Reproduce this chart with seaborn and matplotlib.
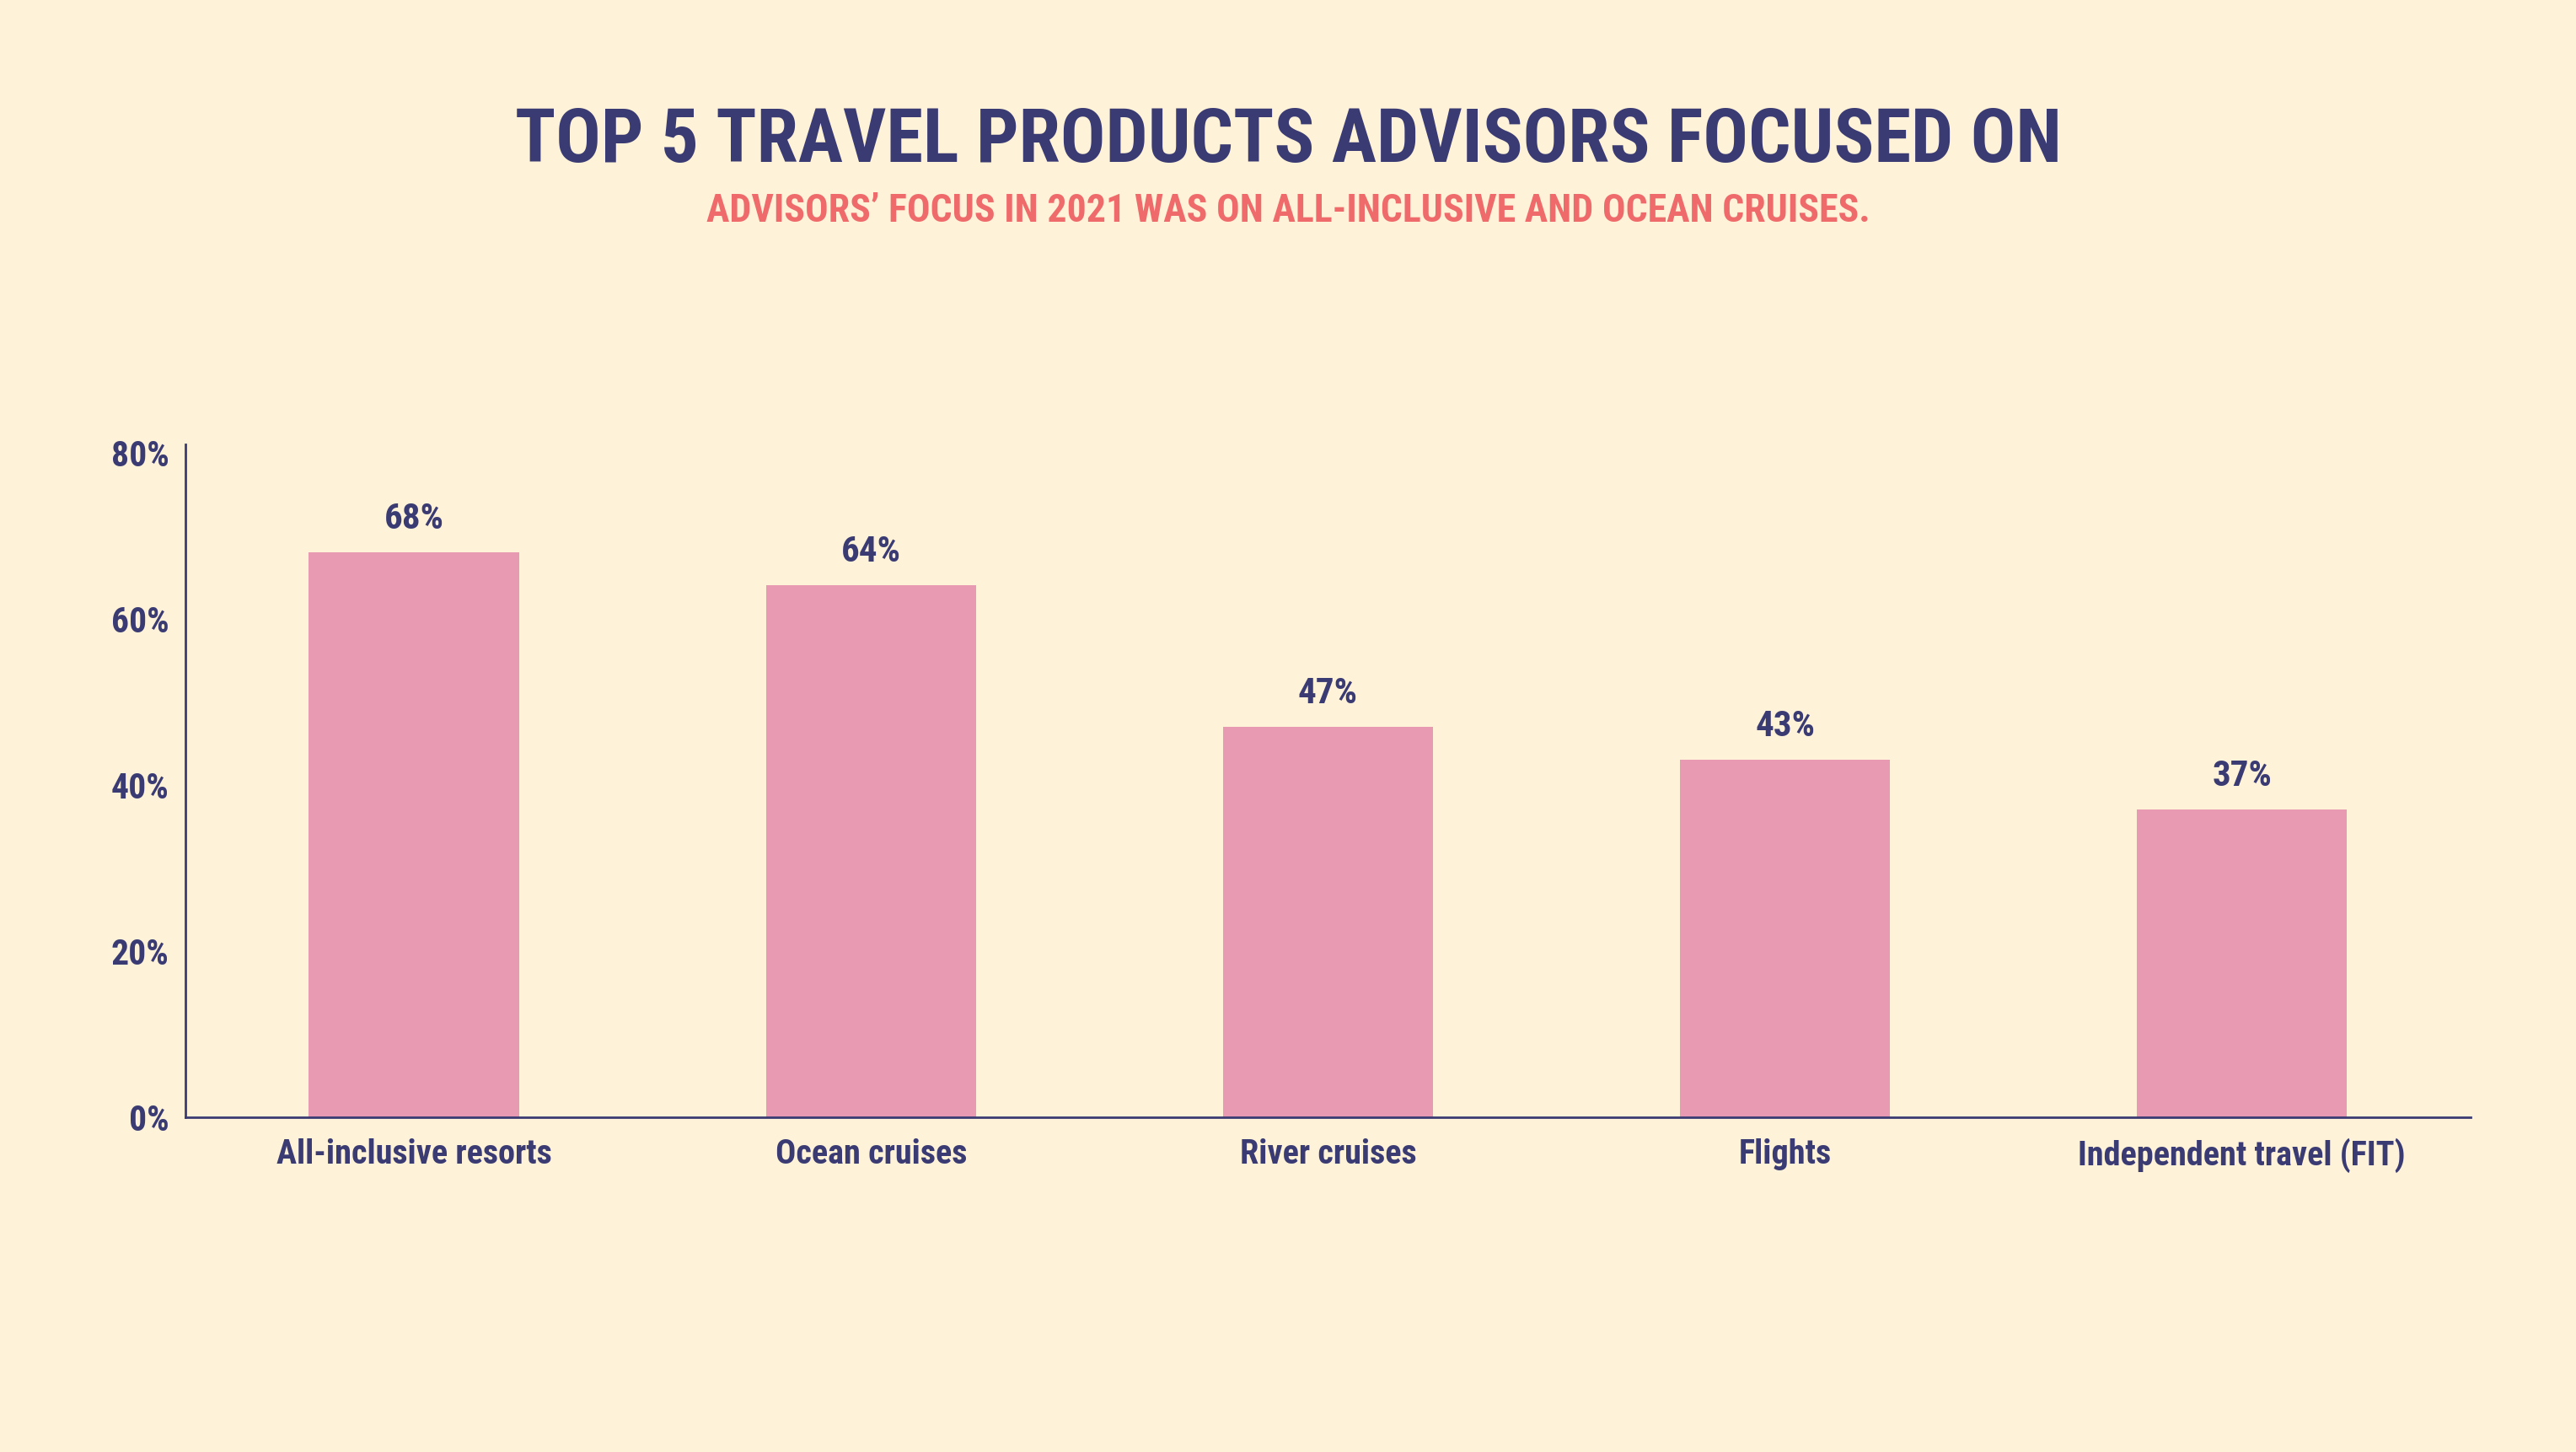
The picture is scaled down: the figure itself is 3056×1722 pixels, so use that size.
import matplotlib
matplotlib.use("Agg")
import matplotlib.pyplot as plt
import seaborn as sns
import pandas as pd
from matplotlib import font_manager

# data
categories = ["All-inclusive resorts", "Ocean cruises", "River cruises",
              "Flights", "Independent travel (FIT)"]
values = [68, 64, 47, 43, 37]
yticks = [0, 20, 40, 60, 80]

title = "TOP 5 TRAVEL PRODUCTS ADVISORS FOCUSED ON"
subtitle = "ADVISORS\u2019 FOCUS IN 2021 WAS ON ALL-INCLUSIVE AND OCEAN CRUISES."

BG = "#FEF3D8"
NAVY = "#3B3B74"
PINK = "#E89AB2"
CORAL = "#EF6B6B"

sns.set_theme(style="white")

# pick a narrow font if one is installed, the reference uses a condensed face
names = {f.name for f in font_manager.fontManager.ttflist}
narrow = [n for n in ["Roboto Condensed", "Liberation Sans Narrow",
                      "Open Sans Condensed"] if n in names]
plt.rcParams["font.family"] = narrow + ["DejaVu Sans"]
plt.rcParams["font.weight"] = "bold"

df = pd.DataFrame({"category": categories, "value": values})

fig = plt.figure(figsize=(30.56, 17.22), dpi=100, facecolor=BG)
ax = fig.add_axes([0.072, 0.2305, 0.887, 0.4635])
ax.set_facecolor(BG)

sns.barplot(data=df, x="category", y="value", color=PINK, width=0.46,
            saturation=1, linewidth=0, ax=ax)

ax.set_xlim(-0.5, len(categories) - 0.5)
ax.set_ylim(0, 81)
ax.set_yticks(yticks)
ax.set_yticklabels([f"{t}%" for t in yticks])
ax.set_xlabel("")
ax.set_ylabel("")

for s in ["top", "right"]:
    ax.spines[s].set_visible(False)
for s in ["left", "bottom"]:
    ax.spines[s].set_color(NAVY)
    ax.spines[s].set_linewidth(2)

ax.tick_params(axis="both", length=0, colors=NAVY)
ax.tick_params(axis="x", pad=18, labelsize=29)
ax.tick_params(axis="y", pad=14, labelsize=30)

for p, v in zip(ax.patches, values):
    ax.annotate(f"{v}%", (p.get_x() + p.get_width() / 2, p.get_height()),
                xytext=(0, 14), textcoords="offset points",
                ha="center", va="bottom", fontsize=31, color=NAVY,
                fontweight="bold")

fig.text(0.5, 0.903, title, ha="center", va="center", fontsize=64,
         color=NAVY, fontweight="bold")
fig.text(0.5, 0.855, subtitle, ha="center", va="center", fontsize=33,
         color=CORAL, fontweight="bold")

fig.savefig("out.png", dpi=100, facecolor=BG)
